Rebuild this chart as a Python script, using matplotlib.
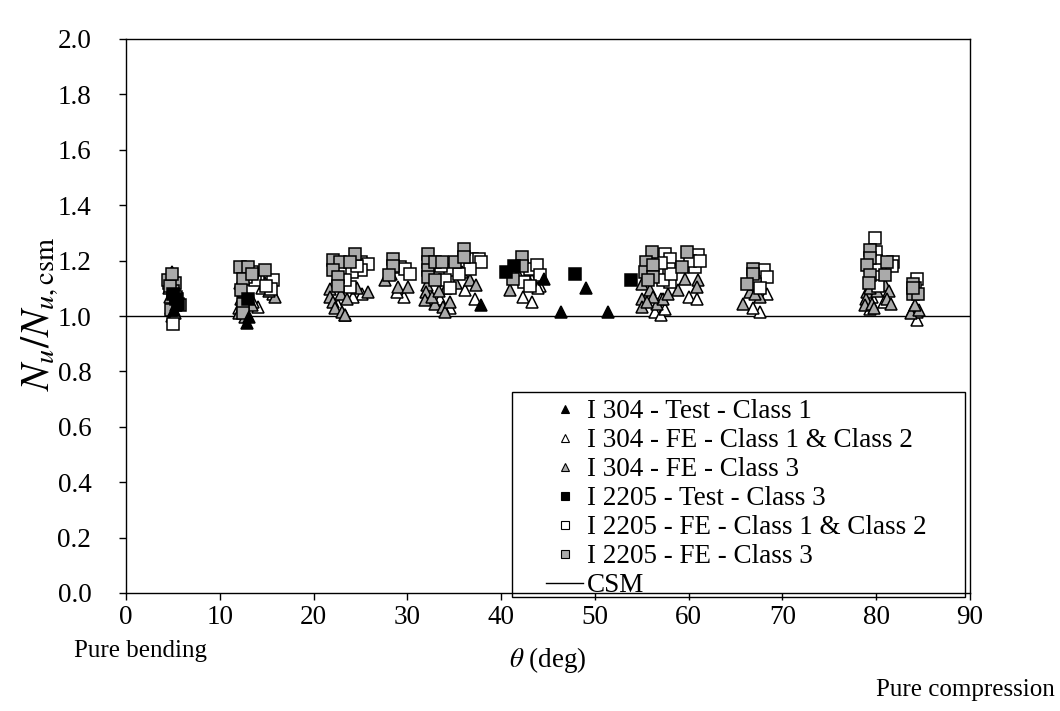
import matplotlib
matplotlib.use("Agg")
import matplotlib.pyplot as plt
from matplotlib.lines import Line2D
from matplotlib.patches import Rectangle

plt.rcParams["font.family"] = ["Liberation Serif", "DejaVu Serif"]
plt.rcParams["mathtext.fontset"] = "stix"

# I 304 - Test - Class 1
t304_test = [5.1, 5.3, 12.9, 13.1, 37.9, 44.6, 46.4, 49.1, 51.4]
r304_test = [1.02, 1.04, 0.975, 0.995, 1.04, 1.135, 1.015, 1.10, 1.015]

# I 2205 - Test - Class 3
t2205_test = [5.0, 5.3, 5.5, 13.0, 40.5, 41.4, 47.9, 53.9]
r2205_test = [1.08, 1.06, 1.045, 1.06, 1.16, 1.18, 1.15, 1.13]

# I 304 - FE - Class 1 & Class 2
t304_fe12 = [5.0, 5.3, 4.9,
             14.1, 12.0, 15.7, 13.5, 14.5,
             25.2, 24.2, 29.6, 22.6, 23.3, 28.9,
             36.1, 37.2, 33.5, 34.5,
             43.3, 44.1, 43.9, 42.3, 43.3,
             56.4, 57.1, 57.5, 60.0, 60.9, 57.0, 56.0,
             67.6, 66.9, 68.3,
             80.0, 79.3, 80.8, 79.6,
             84.3, 84.0]
r304_fe12 = [1.14, 1.08, 1.00,
             1.032, 1.03, 1.08, 1.05, 1.10,
             1.08, 1.07, 1.069, 1.04, 1.005, 1.087,
             1.093, 1.062, 1.06, 1.03,
             1.129, 1.11, 1.10, 1.069, 1.05,
             1.014, 1.003, 1.025, 1.069, 1.062, 1.06, 1.08,
             1.014, 1.029, 1.08,
             1.12, 1.026, 1.05, 1.07,
             0.985, 1.02]

# I 304 - FE - Class 3
t304_fe3 = [4.9, 4.6, 5.0, 4.8, 5.2, 4.7,
            12.0, 12.7, 15.9, 12.3, 12.5, 13.4, 14.8, 15.3, 12.2,
            21.75, 21.75, 22.1, 22.3, 23.0, 23.35, 25.8, 27.6, 29.0, 30.1, 28.3, 22.9, 23.6, 24.6,
            32.1, 32.0, 31.9, 33.0, 33.8, 34.0, 35.8, 36.7, 37.3, 34.1, 32.6, 33.4, 34.6, 35.2,
            40.9, 41.8, 42.8,
            55.0, 55.9, 55.0, 55.0, 56.6, 57.3, 58.9, 59.6, 61.0, 60.9, 56.2, 57.8, 55.6,
            66.5, 65.8, 67.6, 67.1,
            79.0, 78.9, 78.8, 79.5, 80.9, 81.4, 81.1, 81.6, 80.1, 79.3, 79.8,
            83.95, 84.3, 83.7, 84.6, 84.1]
r304_fe3 = [1.16, 1.10, 1.05, 1.03, 1.01, 1.07,
            1.01, 0.996, 1.068, 1.06, 1.09, 1.04, 1.12, 1.09, 1.12,
            1.099, 1.07, 1.05, 1.03, 1.014, 1.003, 1.087, 1.129, 1.105, 1.105, 1.153, 1.08, 1.06, 1.10,
            1.111, 1.087, 1.057, 1.044, 1.032, 1.014, 1.159, 1.129, 1.111, 1.10, 1.07, 1.09, 1.05, 1.12,
            1.093, 1.153, 1.14,
            1.117, 1.093, 1.062, 1.032, 1.044, 1.06, 1.093, 1.135, 1.129, 1.105, 1.07, 1.08, 1.05,
            1.087, 1.044, 1.07, 1.08,
            1.087, 1.06, 1.039, 1.045, 1.111, 1.09, 1.06, 1.045, 1.09, 1.10, 1.03,
            1.026, 1.014, 1.01, 1.02, 1.04]

# I 2205 - FE - Class 1 & Class 2
t2205_fe12 = [5.0, 4.6, 5.1, 5.4,
              14.1, 15.7, 15.5, 13.75, 13.4, 14.9, 12.8,
              25.1, 25.8, 25.1, 24.1, 23.9, 29.2, 29.75, 30.3, 23.3, 24.6,
              36.9, 37.6, 37.9, 36.7, 34.5, 34.0, 33.6, 35.5, 34.5,
              43.1, 43.8, 44.1, 42.4, 43.1,
              57.5, 58.0, 57.9, 58.0, 61.0, 60.7, 60.1, 57.3, 58.1, 61.2, 57.0,
              68.0, 68.3, 67.1, 67.6,
              79.9, 80.0, 80.0, 80.0, 80.0, 81.8, 81.7, 80.2,
              84.3, 84.1]
r2205_fe12 = [0.97, 1.12, 1.10, 1.06,
              1.147, 1.129, 1.099, 1.129, 1.16, 1.11, 1.14,
              1.195, 1.189, 1.165, 1.159, 1.105, 1.177, 1.171, 1.153, 1.13, 1.18,
              1.207, 1.207, 1.195, 1.171, 1.165, 1.129, 1.18, 1.15, 1.10,
              1.171, 1.183, 1.147, 1.123, 1.11,
              1.225, 1.207, 1.17, 1.123, 1.219, 1.177, 1.20, 1.13, 1.15, 1.20, 1.19,
              1.165, 1.141, 1.117, 1.10,
              1.28, 1.231, 1.20, 1.165, 1.14, 1.195, 1.18, 1.11,
              1.135, 1.10]

# I 2205 - FE - Class 3
t2205_fe3 = [4.5, 5.2, 5.0, 4.7, 4.8, 5.8, 4.9, 5.3,
             12.16, 13.05, 12.5, 12.3, 12.5, 14.8, 13.4, 12.5,
             22.1, 22.8, 24.4, 23.9, 22.1, 22.6, 22.6, 28.5, 28.5, 28.0,
             32.2, 32.2, 32.2, 32.2, 33.0, 33.7, 35.1, 36.0, 36.0, 33.0,
             42.2, 42.2, 41.3,
             56.05, 55.5, 55.3, 56.2, 56.2, 59.8, 59.3, 55.7,
             66.9, 66.9, 66.2,
             79.3, 79.3, 79.0, 79.3, 79.2, 81.1, 80.9,
             83.95, 83.95, 84.5, 83.95]
r2205_fe3 = [1.13, 1.12, 1.09, 1.11, 1.02, 1.04, 1.15, 1.07,
             1.177, 1.177, 1.135, 1.093, 1.044, 1.167, 1.153, 1.01,
             1.201, 1.195, 1.225, 1.195, 1.165, 1.141, 1.11, 1.207, 1.18, 1.147,
             1.225, 1.195, 1.165, 1.14, 1.195, 1.195, 1.195, 1.243, 1.213, 1.13,
             1.213, 1.18, 1.135,
             1.231, 1.195, 1.159, 1.183, 1.141, 1.231, 1.177, 1.13,
             1.171, 1.15, 1.117,
             1.237, 1.21, 1.183, 1.147, 1.12, 1.195, 1.147,
             1.117, 1.08, 1.08, 1.10]

csm_x = [0, 90]
csm_y = [1.0, 1.0]

legend_labels = ["I 304 - Test - Class 1",
                 "I 304 - FE - Class 1 & Class 2",
                 "I 304 - FE - Class 3",
                 "I 2205 - Test - Class 3",
                 "I 2205 - FE - Class 1 & Class 2",
                 "I 2205 - FE - Class 3",
                 "CSM"]

GREY = "#aaaaaa"
FS = 19.5
W, H = 1060, 711

fig = plt.figure(figsize=(W / 100, H / 100), dpi=100)
# plot area in pixels: left 126, right 970, top 39, bottom 593
ax = fig.add_axes([126 / W, 1 - 593 / H, 844 / W, 554 / H])

ax.plot(csm_x, csm_y, color="black", lw=1.0, zorder=1)

tri = dict(marker="^", ms=8, mec="black", mew=1.1, ls="none")
sq = dict(marker="s", ms=9, mec="black", mew=1.1, ls="none")

ax.plot(t304_fe12, r304_fe12, mfc="white", zorder=2, **tri)
ax.plot(t304_fe3, r304_fe3, mfc=GREY, zorder=2, **tri)
ax.plot(t2205_fe12, r2205_fe12, mfc="white", zorder=3, **sq)
ax.plot(t2205_fe3, r2205_fe3, mfc=GREY, zorder=3, **sq)
ax.plot(t304_test, r304_test, mfc="black", zorder=4, **tri)
ax.plot(t2205_test, r2205_test, mfc="black", zorder=4, **sq)

ax.set_xlim(0, 90)
ax.set_ylim(0, 2.0)
ax.set_xticks(range(0, 91, 10))
ax.set_yticks([i / 10 for i in range(0, 21, 2)])
ax.set_yticklabels([f"{i / 10:.1f}" for i in range(0, 21, 2)])
ax.tick_params(direction="out", length=5, width=1, labelsize=FS)
ax.tick_params(axis="y", pad=20)
ax.tick_params(axis="x", pad=4)
for s in ax.spines.values():
    s.set_linewidth(1.0)

fig.text(40 / W, 1 - 314 / H, r"$N_u/N_{u,\mathrm{csm}}$", rotation=90,
         ha="center", va="center", fontsize=29)
fig.text(548 / W, 1 - 660 / H, r"$\theta$ (deg)", ha="center", va="center", fontsize=FS)
fig.text(140 / W, 1 - 651 / H, "Pure bending", ha="center", va="center", fontsize=18)
fig.text(965 / W, 1 - 690 / H, "Pure compression", ha="center", va="center", fontsize=18)

handles = [
    Line2D([], [], marker="^", ms=5.5, mfc="black", mec="black", mew=0.8, ls="none"),
    Line2D([], [], marker="^", ms=5.5, mfc="white", mec="black", mew=0.8, ls="none"),
    Line2D([], [], marker="^", ms=5.5, mfc=GREY, mec="black", mew=0.8, ls="none"),
    Line2D([], [], marker="s", ms=5.5, mfc="black", mec="black", mew=0.8, ls="none"),
    Line2D([], [], marker="s", ms=5.5, mfc="white", mec="black", mew=0.8, ls="none"),
    Line2D([], [], marker="s", ms=5.5, mfc=GREY, mec="black", mew=0.8, ls="none"),
    Line2D([], [], color="black", lw=1.0),
]
leg = fig.legend(handles, legend_labels, loc="upper left",
                 bbox_to_anchor=(546 / W, 1 - 399 / H), bbox_transform=fig.transFigure,
                 borderaxespad=0.0, fontsize=FS, frameon=False,
                 labelspacing=0.15, handlelength=1.37, handletextpad=0.15,
                 borderpad=0.0)

# legend border
fig.add_artist(Rectangle((512 / W, 1 - 597 / H), 453 / W, 205 / H,
                         transform=fig.transFigure, fill=False,
                         edgecolor="black", lw=1.0, zorder=5))

fig.savefig("out.png", dpi=100)
